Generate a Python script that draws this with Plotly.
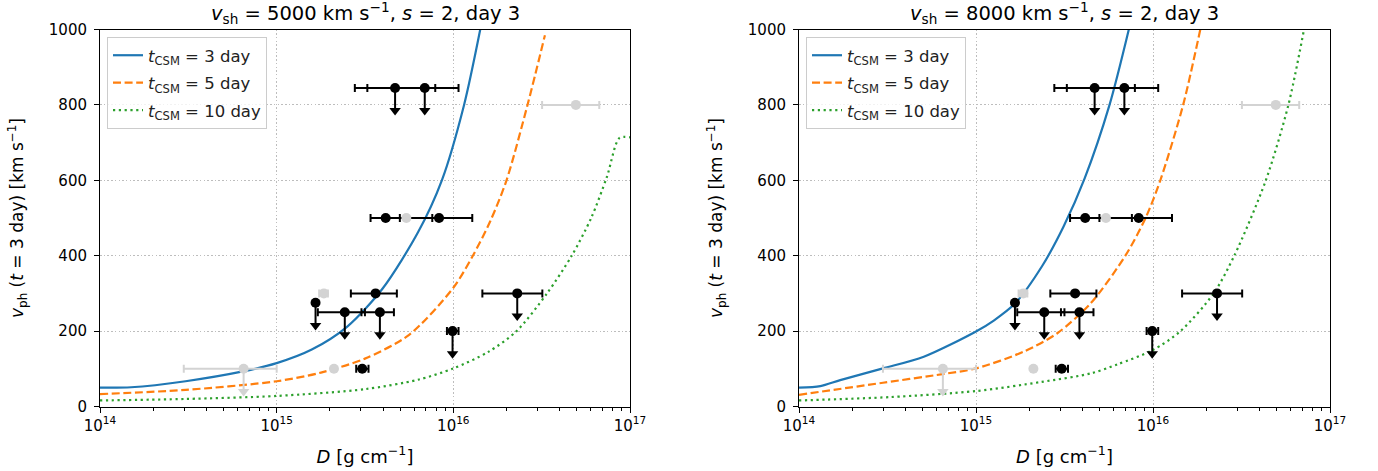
import plotly.graph_objects as go
from plotly.subplots import make_subplots

# ---------------- data ----------------
# model curves (D in g/cm, v_ph in km/s), left panel: v_sh = 5000 km/s
D_l_t3 = [1.0e14, 1.5e14, 3.05e14, 6.44e14, 1.0e15, 1.58e15, 2.51e15, 3.98e15,
          6.31e15, 8.61e15, 1.15e16, 1.42e16]
v_l_t3 = [50, 51, 67, 93, 115, 151, 212, 313, 462, 600, 800, 1000]
D_l_t5 = [1.0e14, 3.05e14, 1.0e15, 1.78e15, 3.16e15, 5.62e15, 1.0e16, 1.29e16,
          1.62e16, 2.0e16, 2.63e16, 3.30e16]
v_l_t5 = [33, 44, 67, 90, 127, 190, 315, 400, 492, 600, 800, 985]
D_l_t10 = [1.0e14, 3.05e14, 1.0e15, 3.16e15, 6.31e15, 1.0e16, 1.58e16, 2.28e16,
           3.39e16, 4.68e16, 6.03e16, 7.41e16, 8.71e16, 1.0e17]
v_l_t10 = [16, 20, 28, 46, 71, 101, 145, 200, 300, 400, 500, 610, 712, 714]

# right panel: v_sh = 8000 km/s
D_r_t3 = [1.0e14, 1.32e14, 1.71e14, 2.98e14, 5.07e14, 1.0e15, 1.26e15, 1.66e15, 2.36e15,
          3.13e15, 4.11e15, 5.68e15, 7.30e15]
v_r_t3 = [50, 54, 70, 101, 132, 199, 228, 273, 372, 478, 605, 800, 1000]
D_r_t5 = [1.0e14, 2.98e14, 6.47e14, 1.0e15, 1.87e15, 2.89e15, 4.47e15, 6.98e15, 9.06e15,
          1.10e16, 1.48e16, 1.85e16]
v_r_t5 = [31, 63, 86, 101, 146, 195, 275, 400, 499, 600, 800, 1000]
D_r_t10 = [1.0e14, 3.28e14, 1.0e15, 2.33e15, 4.47e15, 6.31e15, 1.0e16, 1.43e16, 2.20e16,
           2.88e16, 4.34e16, 5.82e16, 7.13e16]
v_r_t10 = [16, 25, 41, 65, 88, 112, 150, 200, 300, 400, 600, 800, 1000]

# observed objects: black points with horizontal error bars
obs_D = [4.68e15, 6.89e15, 4.14e15, 8.30e15, 3.63e15, 2.30e16, 1.66e15, 2.43e15, 3.84e15, 9.9e15, 3.05e15]
obs_v = [845, 845, 500, 500, 300, 300, 275, 250, 250, 200, 100]
obs_Dlo = [2.77e15, 3.26e15, 3.40e15, 4.98e15, 2.63e15, 1.46e16, None, 1.71e15, 3.02e15, 9.2e15, 2.82e15]
obs_Dhi = [7.9e15, 1.07e16, 7.6e15, 1.28e16, 4.79e15, 3.19e16, None, 3.16e15, 4.61e15, 1.07e16, 3.31e15]
obs_ul = [True, True, False, False, False, True, True, True, True, True, False]

# grey (uncertain) objects
gr_D = [5.42e15, 1.85e15, 6.5e14, 2.11e15, 4.94e16]
gr_v = [500, 300, 100, 100, 800]
gr_Dlo = [None, 1.74e15, 2.98e14, None, 3.18e16]
gr_Dhi = [None, 1.95e15, 1.0e15, None, 6.70e16]
gr_ul = [False, False, True, False, False]

UL_LEN = 60  # length of upper-limit arrows (km/s)

titles = ["<i>v</i><sub>sh</sub> = 5000 km s<sup>\u22121</sup>, <i>s</i> = 2, day 3",
          "<i>v</i><sub>sh</sub> = 8000 km s<sup>\u22121</sup>, <i>s</i> = 2, day 3"]
leg_names = ["<i>t</i><sub>CSM</sub> = 3 day", "<i>t</i><sub>CSM</sub> = 5 day",
             "<i>t</i><sub>CSM</sub> = 10 day"]
x_title = "<i>D</i> [g cm<sup>\u22121</sup>]"
y_title = "<i>v</i><sub>ph</sub> (<i>t</i> = 3 day) [km s<sup>\u22121</sup>]"
x_tickvals = [1e14, 1e15, 1e16, 1e17]
x_ticktext = ["10<sup>14</sup>", "10<sup>15</sup>", "10<sup>16</sup>", "10<sup>17</sup>"]
y_tickvals = [0, 200, 400, 600, 800, 1000]

# ---------------- figure ----------------
FONT = "DejaVu Sans"
W, H = 1378, 471
BLUE, ORANGE, GREEN = "#1f77b4", "#ff7f0e", "#2ca02c"
GREY = "#d3d3d3"

fig = make_subplots(rows=1, cols=2)

panels = [
    ((D_l_t3, v_l_t3), (D_l_t5, v_l_t5), (D_l_t10, v_l_t10)),
    ((D_r_t3, v_r_t3), (D_r_t5, v_r_t5), (D_r_t10, v_r_t10)),
]
styles = [(BLUE, "solid"), (ORANGE, "8px,3.6px"), (GREEN, "2.2px,3.6px")]


def add_points(col, D, v, lo, hi, ul, color):
    idx_e = [i for i in range(len(D)) if lo[i] is not None]
    idx_n = [i for i in range(len(D)) if lo[i] is None]
    idx_u = [i for i in range(len(D)) if ul[i]]
    if idx_u:
        fig.add_trace(go.Scatter(
            x=[D[i] for i in idx_u], y=[v[i] for i in idx_u], mode="markers",
            marker=dict(size=1, color=color, opacity=0),
            error_y=dict(type="data", symmetric=False, array=[0] * len(idx_u),
                         arrayminus=[UL_LEN] * len(idx_u), color=color, thickness=2, width=0),
            showlegend=False, hoverinfo="skip"), row=1, col=col)
        fig.add_trace(go.Scatter(
            x=[D[i] for i in idx_u], y=[v[i] - UL_LEN for i in idx_u], mode="markers",
            marker=dict(symbol="triangle-down", size=10, color=color, line=dict(width=0)),
            showlegend=False, hoverinfo="skip"), row=1, col=col)
    if idx_e:
        fig.add_trace(go.Scatter(
            x=[D[i] for i in idx_e], y=[v[i] for i in idx_e], mode="markers",
            marker=dict(size=10, color=color),
            error_x=dict(type="data", symmetric=False,
                         array=[hi[i] - D[i] for i in idx_e],
                         arrayminus=[D[i] - lo[i] for i in idx_e],
                         color=color, thickness=2, width=4),
            showlegend=False, hoverinfo="skip"), row=1, col=col)
    if idx_n:
        fig.add_trace(go.Scatter(
            x=[D[i] for i in idx_n], y=[v[i] for i in idx_n], mode="markers",
            marker=dict(size=10, color=color),
            showlegend=False, hoverinfo="skip"), row=1, col=col)


for c, curves in enumerate(panels, start=1):
    for (Dx, vy), (colr, dash), name in zip(curves, styles, leg_names):
        fig.add_trace(go.Scatter(
            x=Dx, y=vy, mode="lines", name=name,
            line=dict(color=colr, dash=dash, width=2.2, shape="spline", smoothing=0.8),
            legend="legend" if c == 1 else "legend2",
            legendgroup=f"{c}-{name}", hoverinfo="skip"), row=1, col=c)
    add_points(c, obs_D, obs_v, obs_Dlo, obs_Dhi, obs_ul, "black")
    add_points(c, gr_D, gr_v, gr_Dlo, gr_Dhi, gr_ul, GREY)

minor_vals = [m * 10 ** e for e in (14, 15, 16) for m in range(2, 10)]

x_domains = [[100 / W, 630 / W], [799 / W, 1330 / W]]
y_domain = [1 - 406.5 / H, 1 - 29.5 / H]

for c in (1, 2):
    fig.update_xaxes(
        type="log", range=[14, 17], domain=x_domains[c - 1], automargin=False,
        tickmode="array", tickvals=x_tickvals, ticktext=x_ticktext,
        ticks="outside", ticklen=5, tickwidth=1, tickcolor="black",
        minor=dict(tickmode="array", tickvals=minor_vals, ticks="outside", ticklen=3,
                   tickwidth=0.8, tickcolor="black", showgrid=False),
        showgrid=True, gridcolor="#bdbdbd", griddash="1.5px,2.2px", gridwidth=1,
        showline=True, mirror=True, linecolor="black", linewidth=1,
        zeroline=False,
        tickfont=dict(family=FONT, size=15, color="black"),
        title=dict(text=x_title, font=dict(family=FONT, size=18, color="black"), standoff=16),
        row=1, col=c)
    fig.update_yaxes(
        range=[0, 1000], domain=y_domain, automargin=False,
        tickmode="array", tickvals=y_tickvals,
        ticks="outside", ticklen=5, tickwidth=1, tickcolor="black", ticklabelstandoff=4,
        showgrid=True, gridcolor="#bdbdbd", griddash="1.5px,2.2px", gridwidth=1,
        showline=True, mirror=True, linecolor="black", linewidth=1,
        zeroline=False,
        tickfont=dict(family=FONT, size=15, color="black"),
        title=dict(text=y_title, font=dict(family=FONT, size=17, color="black"), standoff=20),
        row=1, col=c)

for c in (1, 2):
    d = x_domains[c - 1]
    fig.add_annotation(text=titles[c - 1], xref="paper", yref="paper",
                       x=(d[0] + d[1]) / 2, y=1 - 13 / H, xanchor="center", yanchor="middle",
                       showarrow=False, font=dict(family=FONT, size=19.5, color="black"))

legend_style = dict(bgcolor="rgba(255,255,255,0.8)", bordercolor="#cccccc", borderwidth=1,
                    font=dict(family=FONT, size=16.5, color="#222222"),
                    xanchor="left", yanchor="top", tracegroupgap=3, itemwidth=30)

fig.update_layout(
    width=W, height=H,
    margin=dict(l=0, r=0, t=0, b=0),
    paper_bgcolor="white", plot_bgcolor="white",
    font=dict(family=FONT, size=15, color="black"),
    legend=dict(x=107 / W, y=1 - 37 / H, **legend_style),
    legend2=dict(x=806 / W, y=1 - 37 / H, **legend_style),
    showlegend=True,
)

fig.write_html("out.html", config={"displayModeBar": False},
               post_script="document.body.style.margin='0px';")
